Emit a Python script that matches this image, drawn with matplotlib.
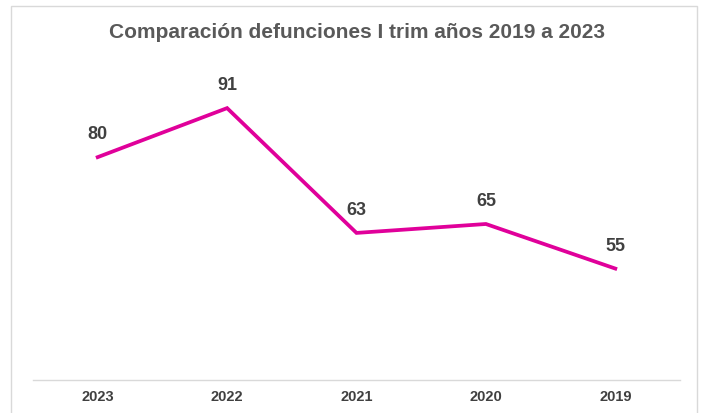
import matplotlib
matplotlib.use("Agg")
import matplotlib.pyplot as plt
from matplotlib.patches import Rectangle

years = ["2023", "2022", "2021", "2020", "2019"]
deaths = [80, 91, 63, 65, 55]
title = "Comparación defunciones I trim años 2019 a 2023"

plt.rcParams['font.family'] = ['Liberation Sans', 'DejaVu Sans']

fig = plt.figure(figsize=(7.06, 4.13), dpi=100)
fig.patch.set_facecolor('white')
fig.patches.append(Rectangle((11/706, -0.1), (697-11)/706, 1.1 - 6/413,
                             transform=fig.transFigure, fill=False,
                             edgecolor='#D9D9D9', linewidth=1.0))

ax = fig.add_axes([33/706, 33/413, (680-33)/706, (380-68)/413])
x = list(range(len(years)))
ax.plot(x, deaths, color='#E0009A', linewidth=2.7, solid_joinstyle='miter')
for xi, v in zip(x, deaths):
    ax.annotate(str(v), (xi, v), xytext=(0, 16), textcoords='offset points',
                ha='center', va='center', fontsize=13, fontweight='bold',
                color='#404040')
ax.set_xlim(-0.5, len(years) - 0.5)
ax.set_ylim(30, 100)
ax.set_xticks(x)
ax.set_xticklabels(years, fontsize=10.5, fontweight='bold', color='#404040')
ax.tick_params(axis='x', length=0, pad=7)
ax.set_yticks([])
for s in ['left', 'right', 'top']:
    ax.spines[s].set_visible(False)
ax.spines['bottom'].set_color('#D9D9D9')
ax.spines['bottom'].set_linewidth(1.0)
ax.patch.set_alpha(0)

fig.text(357/706, 1 - 33/413, title, ha='center', va='center', fontsize=15,
         fontweight='bold', color='#595959')

fig.savefig('out.png', dpi=100)
